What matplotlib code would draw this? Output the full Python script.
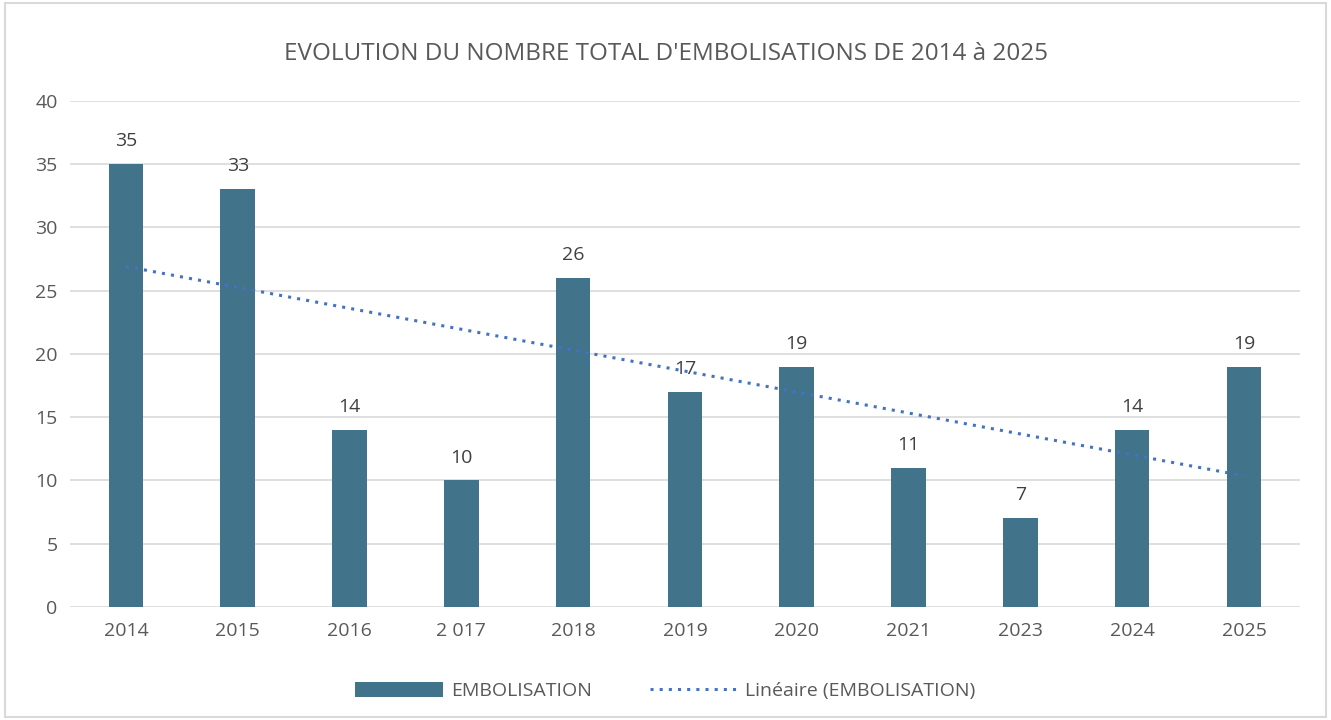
import numpy as np
import matplotlib.pyplot as plt
from matplotlib.patches import Rectangle

# data
years = ["2014", "2015", "2016", "2 017", "2018", "2019", "2020", "2021", "2023", "2024", "2025"]
embolisations = [35, 33, 14, 10, 26, 17, 19, 11, 7, 14, 19]
y_ticks = [0, 5, 10, 15, 20, 25, 30, 35, 40]

bar_color = "#41738A"
trend_color = "#4472C4"
text_color = "#595959"
grid_color = "#D9D9D9"

plt.rcParams['font.family'] = ['Open Sans', 'DejaVu Sans']

fig = plt.figure(figsize=(13.31, 7.2), dpi=100)
ax = fig.add_axes([0.0526, 0.157, 0.924, 0.703])

x = np.arange(1, len(years) + 1)
bars = ax.bar(x, embolisations, width=0.31, color=bar_color, label="EMBOLISATION", zorder=3)

# linear trend like excel's "Linéaire"
slope, intercept = np.polyfit(x, embolisations, 1)
trend, = ax.plot(x, slope * x + intercept, color=trend_color, linestyle=(0, (1, 2)), linewidth=2.2,
                 label="Linéaire (EMBOLISATION)", zorder=4)

for xi, v in zip(x, embolisations):
    ax.text(xi, v + 1.1, str(v), ha="center", va="bottom", fontsize=14, color="#404040")

ax.set_xlim(0.5, len(years) + 0.5)
ax.set_ylim(0, 40)
ax.set_xticks(x)
ax.set_xticklabels(years)
ax.set_yticks(y_ticks)
ax.tick_params(axis="both", length=0, labelsize=14, labelcolor=text_color, pad=11)
ax.tick_params(axis="y", pad=9)
ax.grid(axis="y", color=grid_color, linewidth=1.2, zorder=0)
for s in ax.spines.values():
    s.set_visible(False)

fig.text(0.5, 0.925, "EVOLUTION DU NOMBRE TOTAL D'EMBOLISATIONS DE 2014 à 2025",
         ha="center", va="center", fontsize=17.5, color=text_color)

fig.legend(handles=[bars, trend], loc="center", bbox_to_anchor=(0.5, 0.04), ncol=2, frameon=False,
           fontsize=14, labelcolor=text_color, handlelength=4.5, handleheight=0.8,
           columnspacing=3, handletextpad=0.4)

# light border round the whole chart
fig.patches.append(Rectangle((0.004, 0.004), 0.992, 0.992, transform=fig.transFigure,
                             fill=False, edgecolor=grid_color, linewidth=1.5))

fig.savefig("out.png", dpi=100)
